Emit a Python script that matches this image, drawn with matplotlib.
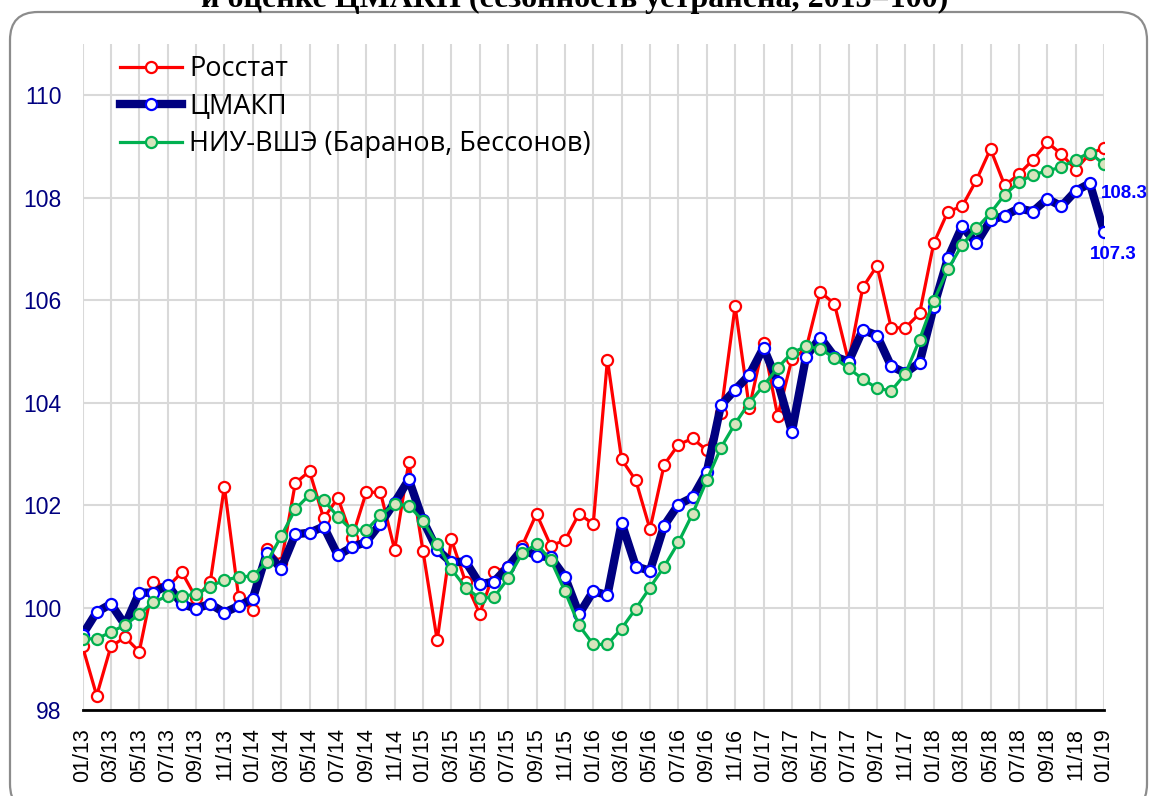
import matplotlib
matplotlib.use("Agg")
import matplotlib.pyplot as plt
from matplotlib.patches import FancyBboxPatch
import numpy as np

years = ["13", "14", "15", "16", "17", "18"]
months = [f"{m:02d}/{y}" for y in years for m in range(1, 13)] + ["01/19"]
tick_labels = months[::2]

rosstat = [99.24, 98.28, 99.24, 99.42, 99.14, 100.49, 100.4, 100.69, 100.19, 100.49,
           102.36, 100.21, 99.95, 101.14, 100.87, 102.43, 102.66, 101.74, 102.14, 101.36,
           102.25, 102.25, 101.13, 102.84, 101.1, 99.36, 101.33, 100.5, 99.88, 100.69,
           100.8, 101.21, 101.83, 101.21, 101.31, 101.83, 101.63, 104.84, 102.89, 102.48,
           101.53, 102.79, 103.18, 103.3, 103.07, 103.8, 105.88, 103.9, 105.16, 103.74,
           104.85, 105.05, 106.16, 105.93, 104.8, 106.25, 106.67, 105.46, 105.46, 105.74,
           107.11, 107.73, 107.83, 108.34, 108.95, 108.24, 108.46, 108.74, 109.08, 108.85,
           108.55, 108.86, 108.97]

cmakp = [99.47, 99.91, 100.07, 99.66, 100.29, 100.29, 100.44, 100.07, 99.98, 100.07,
         99.9, 100.03, 100.17, 101.07, 100.76, 101.43, 101.46, 101.58, 101.02, 101.18,
         101.28, 101.64, 102.05, 102.5, 101.7, 101.13, 100.88, 100.9, 100.46, 100.5,
         100.8, 101.14, 101.01, 100.98, 100.6, 99.87, 100.32, 100.24, 101.65, 100.8,
         100.72, 101.6, 102.01, 102.15, 102.64, 103.95, 104.25, 104.54, 105.07, 104.41,
         103.43, 104.9, 105.27, 104.9, 104.8, 105.42, 105.31, 104.71, 104.58, 104.78,
         105.87, 106.82, 107.44, 107.11, 107.56, 107.65, 107.79, 107.73, 107.98, 107.83,
         108.13, 108.28, 107.34]

hse = [99.39, 99.39, 99.52, 99.66, 99.87, 100.11, 100.22, 100.22, 100.26, 100.41,
       100.54, 100.59, 100.62, 100.88, 101.39, 101.92, 102.2, 102.1, 101.77, 101.51,
       101.51, 101.8, 102.02, 101.99, 101.69, 101.24, 100.75, 100.39, 100.18, 100.2,
       100.57, 101.06, 101.24, 100.93, 100.32, 99.65, 99.28, 99.28, 99.59, 99.98,
       100.39, 100.8, 101.27, 101.83, 102.48, 103.12, 103.59, 104.0, 104.33, 104.68,
       104.97, 105.1, 105.05, 104.87, 104.67, 104.46, 104.28, 104.23, 104.56, 105.23,
       105.99, 106.6, 107.08, 107.4, 107.7, 108.06, 108.3, 108.45, 108.52, 108.6,
       108.74, 108.88, 108.65]

series_names = ["Росстат", "ЦМАКП", "НИУ-ВШЭ (Баранов, Бессонов)"]
title_text = "и оценке ЦМАКП (сезонность устранена, 2013=100)"

W, H = 1150, 796
fig = plt.figure(figsize=(W / 100, H / 100), dpi=100)
fig.patch.set_facecolor("white")

# background frame
bg = fig.add_axes([0, 0, 1, 1], zorder=0)
bg.set_xlim(0, W)
bg.set_ylim(H, 0)
bg.axis("off")
bg.add_patch(FancyBboxPatch((10, 12), 1137, 800, boxstyle="round,pad=0,rounding_size=28",
                            fc="white", ec="#8c8c8c", lw=1.6))

ax = fig.add_axes([82.5 / W, 1 - 710 / H, (1104 - 82.5) / W, (710 - 44) / H], zorder=2)
ax.patch.set_alpha(0)

x = np.arange(len(months))
ax.plot(x, rosstat, color="#FF0000", lw=2.3, marker="o", ms=8, mfc="white",
        mec="#FF0000", mew=1.6, zorder=3, label=series_names[0])
ax.plot(x, cmakp, color="#000080", lw=6, marker="o", ms=8, mfc="white",
        mec="#0000FF", mew=1.6, zorder=4, label=series_names[1])
ax.plot(x, hse, color="#00B050", lw=2.3, marker="o", ms=8, mfc="#D7E4BD",
        mec="#00B050", mew=1.6, zorder=5, label=series_names[2])

ax.set_xlim(0, len(months) - 1)
ax.set_ylim(98, 111)
ax.set_yticks(np.arange(98, 111, 2))
ax.set_xticks(x[::2])
ax.set_xticklabels(tick_labels, rotation=90, fontsize=15.5, family="Liberation Sans")
ax.tick_params(axis="x", length=0, pad=13)
ax.tick_params(axis="y", length=0, pad=15, labelsize=16.5, labelcolor="#000080")
for lab in ax.get_yticklabels():
    lab.set_family("Liberation Sans")

ax.grid(True, color="#D9D9D9", lw=1.5, zorder=0)
ax.set_axisbelow(True)
for s in ["top", "right", "left"]:
    ax.spines[s].set_visible(False)
ax.spines["bottom"].set_color("black")
ax.spines["bottom"].set_linewidth(2)
ax.spines["bottom"].set_zorder(6)

leg = ax.legend(loc="upper left", bbox_to_anchor=(120 / W, 1 - 55 / H),
                bbox_transform=fig.transFigure, frameon=False,
                prop={"family": "Open Sans", "size": 19.5},
                handlelength=2.3, handletextpad=0.25, labelspacing=0.36,
                borderpad=0, borderaxespad=0)

lab_font = ["Liberation Sans Narrow", "Liberation Sans"]
ax.annotate(f"{cmakp[-2]:.1f}", xy=(x[-2], cmakp[-2]), xytext=(11, -10),
            textcoords="offset pixels", ha="left", va="center", fontsize=13.5,
            fontweight="bold", color="#0000FF", family=lab_font, annotation_clip=False)
ax.annotate(f"{cmakp[-1]:.1f}", xy=(x[-1], cmakp[-1]), xytext=(-14, -23),
            textcoords="offset pixels", ha="left", va="center", fontsize=13.5,
            fontweight="bold", color="#0000FF", family=lab_font, annotation_clip=False)

fig.text(0.5, 1 - 7 / H, title_text, ha="center", va="baseline",
         fontsize=23, fontweight="bold", family="Liberation Serif")

fig.savefig("out.png", dpi=100)
